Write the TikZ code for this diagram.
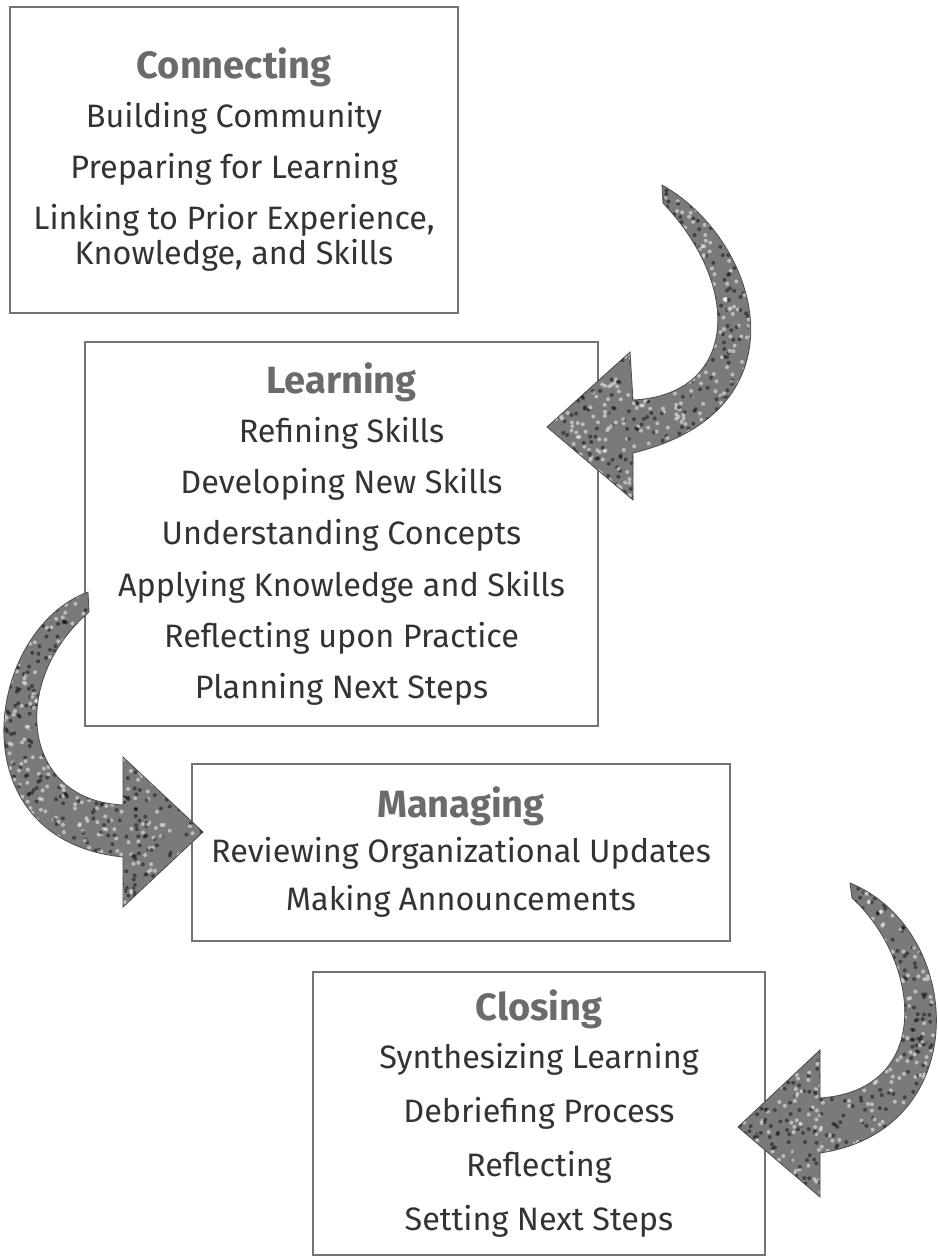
\documentclass[tikz,border=0pt]{standalone}
\usepackage{fontspec}
\setmainfont{Fira Sans}
\newcommand\boxtitle[1]{{\fontsize{19}{22}\selectfont\bfseries\color{black!58}#1}}
\tikzset{
  box/.style={draw=black!55, line width=0.6pt, align=center, inner sep=0pt, text=black!80},
  arr/.style={fill=black!52, draw=black!70, line width=0.4pt},
  speck/.style n args={4}{path picture={
     \foreach \k in {1,...,700}{
        \pgfmathsetmacro\px{#1+rnd*(#3-#1)}
        \pgfmathsetmacro\py{#2+rnd*(#4-#2)}
        \fill[white,opacity=0.5] (\px,\py) circle (1pt);
        \pgfmathsetmacro\qx{#1+rnd*(#3-#1)}
        \pgfmathsetmacro\qy{#2+rnd*(#4-#2)}
        \fill[black,opacity=0.45] (\qx,\qy) circle (1pt);
     }}}
}
\begin{document}
\begin{tikzpicture}[x=0.5pt,y=-0.5pt]
\pgfmathsetseed{7}
\useasboundingbox (0,0) rectangle (938,1260);
\fill[white] (0,0) rectangle (938,1260);

\node[box, minimum width=224pt, minimum height=153pt, font=\fontsize{16.2}{25.5}\selectfont]
  (connect) at (234,160)
  {\boxtitle{Connecting}\\[-1pt] Building Community\\ Preparing for Learning\\ Linking to Prior Experience,\\[-8pt] Knowledge, and Skills};

\node[box, minimum width=256.5pt, minimum height=192pt, font=\fontsize{16.2}{25.6}\selectfont]
  (learn) at (341.5,534)
  {\boxtitle{Learning}\\[-1pt] Refining Skills\\ Developing New Skills\\ Understanding Concepts\\ Applying Knowledge and Skills\\ Reflecting upon Practice\\ Planning Next Steps};

\node[box, minimum width=269pt, minimum height=88.5pt, font=\fontsize{16.2}{24}\selectfont]
  (manage) at (461,852.5)
  {\boxtitle{Managing}\\[-1.5pt] Reviewing Organizational Updates\\ Making Announcements};

\node[box, minimum width=226pt, minimum height=141.5pt, font=\fontsize{16.2}{27}\selectfont]
  (close) at (539,1113.5)
  {\boxtitle{Closing}\\[-3pt] Synthesizing Learning\\ Debriefing Process\\ Reflecting\\ Setting Next Steps};

% arrow from Connecting to Learning
\path[arr, speck={540}{175}{800}{505}] (662,185)
  .. controls (760,240) and (810,410) .. (633,453)
  -- (633,500) -- (547,427) -- (630,352) -- (633,400)
  .. controls (735,395) and (745,290) .. (663,203) -- cycle;

% arrow from Learning to Managing
\path[arr, speck={-45}{585}{210}{912}] (88,592)
  .. controls (-15,630) and (-45,840) .. (123,857)
  -- (123,907) -- (203,832) -- (123,757) -- (123,805)
  .. controls (20,800) and (10,680) .. (89,612) -- cycle;

% arrow from Managing to Closing
\path[arr, speck={730}{875}{975}{1202}] (850,883)
  .. controls (965,930) and (975,1130) .. (820,1153)
  -- (820,1197) -- (738,1127) -- (820,1050) -- (820,1098)
  .. controls (935,1090) and (920,960) .. (852,898) -- cycle;
\end{tikzpicture}
\end{document}
